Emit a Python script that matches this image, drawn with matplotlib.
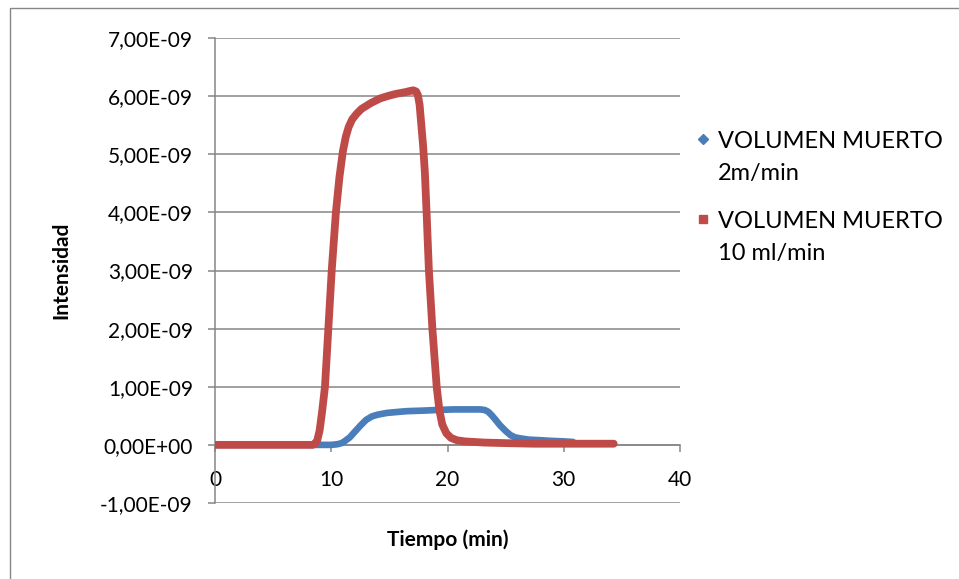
import matplotlib
matplotlib.use("Agg")
import matplotlib.pyplot as plt
import numpy as np
from matplotlib.patches import Rectangle
from matplotlib.ticker import FuncFormatter, MultipleLocator

# readings taken off the chart: time (min) and intensity (units of 1e-9)
t_2ml = [0, 2, 4, 6, 8, 9, 10, 10.5, 10.9, 11.2, 11.6, 12.0, 12.5, 13.0, 13.5,
         14.0, 14.8, 15.9, 16.5, 18.0, 19.1, 20.5, 22.0, 22.8, 23.2, 23.5, 23.8,
         24.1, 24.5, 25.0, 25.4, 25.8, 26.3, 27.0, 28.0, 28.8, 30.0, 30.8]
i_2ml = [0, 0, 0, 0, 0, 0, 0.0, 0.01, 0.03, 0.07, 0.13, 0.22, 0.33, 0.43, 0.49,
         0.52, 0.55, 0.57, 0.58, 0.59, 0.60, 0.61, 0.61, 0.61, 0.60, 0.57, 0.51,
         0.44, 0.34, 0.24, 0.17, 0.13, 0.11, 0.09, 0.08, 0.07, 0.06, 0.05]

t_10ml = [0, 2, 4, 6, 8, 8.4, 8.6, 8.8, 9.0, 9.2, 9.46, 9.75, 10.04, 10.4, 10.7,
          11.0, 11.25, 11.5, 11.8, 12.2, 12.6, 13.4, 14.2, 15.0, 15.6, 16.4,
          16.8, 17.06, 17.3, 17.45, 17.6, 17.75, 17.9, 18.05, 18.2, 18.4, 18.7,
          19.07, 19.3, 19.55, 19.9, 20.3, 20.8, 21.5, 23.1, 25.0, 27.4, 30.0,
          32.0, 34.3]
i_10ml = [0, 0, 0, 0, 0, 0.0, 0.02, 0.08, 0.25, 0.55, 1.0, 2.0, 3.0, 4.0, 4.6,
          5.05, 5.3, 5.47, 5.6, 5.7, 5.78, 5.88, 5.96, 6.01, 6.04, 6.07,
          6.09, 6.1, 6.08, 6.02, 5.85, 5.5, 5.15, 4.7, 4.0, 3.0, 2.0,
          1.0, 0.6, 0.35, 0.2, 0.12, 0.08, 0.06, 0.04, 0.03, 0.02, 0.02,
          0.02, 0.02]

labels = ["VOLUMEN MUERTO\n2m/min", "VOLUMEN MUERTO\n10 ml/min"]
x_ticks = [0, 10, 20, 30, 40]

BLUE = "#4A7EBB"
RED = "#BE4B48"
GRID = "#868686"

plt.rcParams["font.family"] = ["Lato", "DejaVu Sans"]

W, H = 959, 579
fig = plt.figure(figsize=(W / 100, H / 100), dpi=100)


def fx(px):
    return px / W


def fy(py):
    return 1 - py / H


# outer chart frame (right and bottom edges fall outside the picture)
fig.add_artist(Rectangle((fx(10), fy(585)), fx(965) - fx(10), fy(8) - fy(585),
                         transform=fig.transFigure, fill=False,
                         edgecolor=GRID, linewidth=1.0))

ax = fig.add_axes([fx(215), fy(503), fx(680) - fx(215), fy(38) - fy(503)])

ax.plot(t_2ml, np.array(i_2ml) * 1e-9, color=BLUE, lw=4.8,
        solid_capstyle="round", solid_joinstyle="round", zorder=3)
ax.plot(t_10ml, np.array(i_10ml) * 1e-9, color=RED, lw=5.6,
        solid_capstyle="round", solid_joinstyle="round", zorder=4)

ax.set_xlim(0, 40)
ax.set_ylim(-1e-9, 7e-9)
ax.set_xticks(x_ticks)
ax.yaxis.set_major_locator(MultipleLocator(1e-9))
ax.yaxis.set_major_formatter(
    FuncFormatter(lambda v, _: f"{v:.2E}".replace(".", ",").replace("-0,00", "0,00")))
ax.yaxis.get_offset_text().set_visible(False)
ax.xaxis.get_offset_text().set_visible(False)

ax.spines["top"].set_visible(False)
ax.spines["right"].set_visible(False)
ax.spines["bottom"].set_position(("data", 0))
for s in ("left", "bottom"):
    ax.spines[s].set_color(GRID)
    ax.spines[s].set_linewidth(1.1)

ax.grid(axis="y", color=GRID, linewidth=1.1)
ax.set_axisbelow(True)
ax.tick_params(axis="both", direction="out", length=5, width=1.1, color=GRID,
               labelsize=15, labelcolor="black")
ax.tick_params(axis="x", pad=13)
ax.tick_params(axis="y", pad=11)

ax.set_xlabel("Tiempo (min)", fontsize=15, fontweight="bold", va="center")
ax.set_ylabel("Intensidad", fontsize=15, fontweight="bold", va="center")
ax.xaxis.set_label_coords((448 - 215) / 465, (503 - 540) / 465)
ax.yaxis.set_label_coords((61 - 215) / 465, (503 - 270) / 465)

# legend, drawn by hand to keep the Excel layout
legend_rows = [(BLUE, "D", 5, 139, [148, 180]), (RED, "s", 6, 219, [228, 260])]
for (color, marker, ms, my, baselines), label in zip(legend_rows, labels):
    ax.plot([fx(703)], [fy(my)], marker=marker, color=color, ms=ms, ls="none",
            transform=fig.transFigure, clip_on=False)
    for line, base in zip(label.split("\n"), baselines):
        fig.text(fx(718), fy(base), line, fontsize=17, va="baseline", ha="left")

fig.savefig("out.png", dpi=100)
